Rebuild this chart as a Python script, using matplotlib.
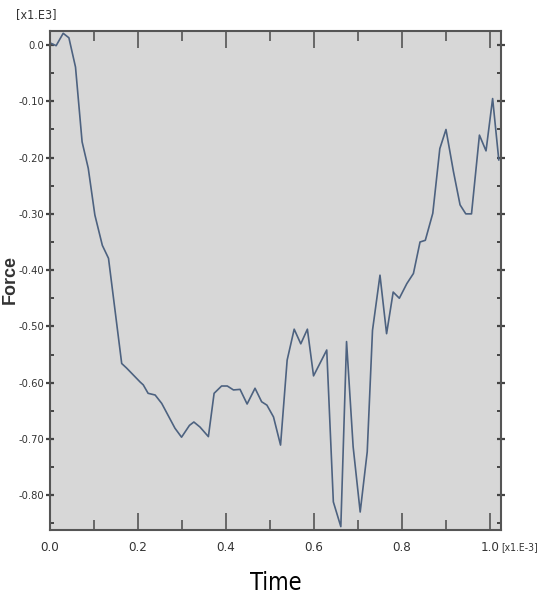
import matplotlib
matplotlib.use("Agg")
import matplotlib.pyplot as plt
from matplotlib.ticker import MultipleLocator

# time in [x1.E-3], force in [x1.E3]
time = [0.000, 0.014, 0.030, 0.043, 0.058, 0.073, 0.087, 0.102, 0.119, 0.133,
        0.163, 0.174, 0.205, 0.212, 0.223, 0.239, 0.254, 0.284, 0.299, 0.317,
        0.327, 0.341, 0.360, 0.373, 0.390, 0.403, 0.417, 0.432, 0.448, 0.466,
        0.481, 0.493, 0.508, 0.524, 0.539, 0.555, 0.570, 0.585, 0.599, 0.614,
        0.629, 0.644, 0.661, 0.674, 0.689, 0.705, 0.721, 0.733, 0.750, 0.765,
        0.780, 0.794, 0.811, 0.826, 0.841, 0.853, 0.870, 0.886, 0.900, 0.917,
        0.932, 0.945, 0.958, 0.976, 0.991, 1.006, 1.020]
force = [0.004, -0.001, 0.021, 0.013, -0.039, -0.172, -0.219, -0.302, -0.356, -0.379,
         -0.566, -0.574, -0.599, -0.604, -0.619, -0.622, -0.637, -0.681, -0.697, -0.676,
         -0.670, -0.679, -0.696, -0.619, -0.606, -0.606, -0.613, -0.612, -0.638, -0.610,
         -0.634, -0.640, -0.661, -0.711, -0.560, -0.505, -0.531, -0.505, -0.588, -0.565,
         -0.542, -0.812, -0.856, -0.527, -0.714, -0.830, -0.723, -0.507, -0.409, -0.513,
         -0.439, -0.450, -0.424, -0.406, -0.350, -0.347, -0.299, -0.184, -0.150, -0.225,
         -0.284, -0.300, -0.300, -0.160, -0.188, -0.095, -0.204]
xticks = [0.0, 0.2, 0.4, 0.6, 0.8, 1.0]
xlabels = ['0.0', '0.2', '0.4', '0.6', '0.8', '1.0']
yticks = [0.0, -0.1, -0.2, -0.3, -0.4, -0.5, -0.6, -0.7, -0.8]
ylabels = ['0.0', '-0.10', '-0.20', '-0.30', '-0.40', '-0.50', '-0.60', '-0.70', '-0.80']

narrow = dict(family='DejaVu Sans', stretch='condensed')

fig = plt.figure(figsize=(5.38, 5.97), dpi=100)
ax = fig.add_axes([0.0929, 0.1122, 0.8383, 0.8358])
ax.set_facecolor('#d7d7d7')

ax.plot(time, force, color='#4d6280', linewidth=1.2)

ax.set_xlim(0, 1.025)
ax.set_ylim(-0.862, 0.025)

ax.set_xticks(xticks)
ax.set_xticklabels(xlabels, fontsize=9.5, color='#333333', **narrow)
ax.set_yticks(yticks)
ax.set_yticklabels(ylabels, fontsize=8, color='#333333', **narrow)
ax.xaxis.set_minor_locator(MultipleLocator(0.1))
ax.yaxis.set_minor_locator(MultipleLocator(0.05))

for s in ax.spines.values():
    s.set_color('#555555')
    s.set_linewidth(1.5)

ax.tick_params(axis='x', which='major', direction='in', length=12, width=1.2,
               top=True, color='#555555', pad=8)
ax.tick_params(axis='x', which='minor', direction='in', length=7, width=1.2,
               top=True, color='#555555')
ax.tick_params(axis='y', which='major', direction='inout', length=6, width=1.6,
               right=True, color='#444444', pad=1)
ax.tick_params(axis='y', which='minor', direction='in', length=3, width=1.4,
               right=True, color='#444444')

ax.set_xlabel('Time', fontsize=17, labelpad=12, **narrow)
fig.text(0.019, 0.531, 'Force', rotation=90, fontsize=13, fontweight='bold',
         color='#333333', ha='center', va='center',
         family=['Liberation Sans', 'DejaVu Sans'])

fig.text(0.03, 0.965, '[x1.E3]', fontsize=9, color='#333333',
         va='bottom', ha='left', **narrow)
fig.text(0.932, 0.083, '[x1.E-3]', fontsize=7.5, color='#333333',
         va='center', ha='left', **narrow)

fig.savefig('out.png', dpi=100)
